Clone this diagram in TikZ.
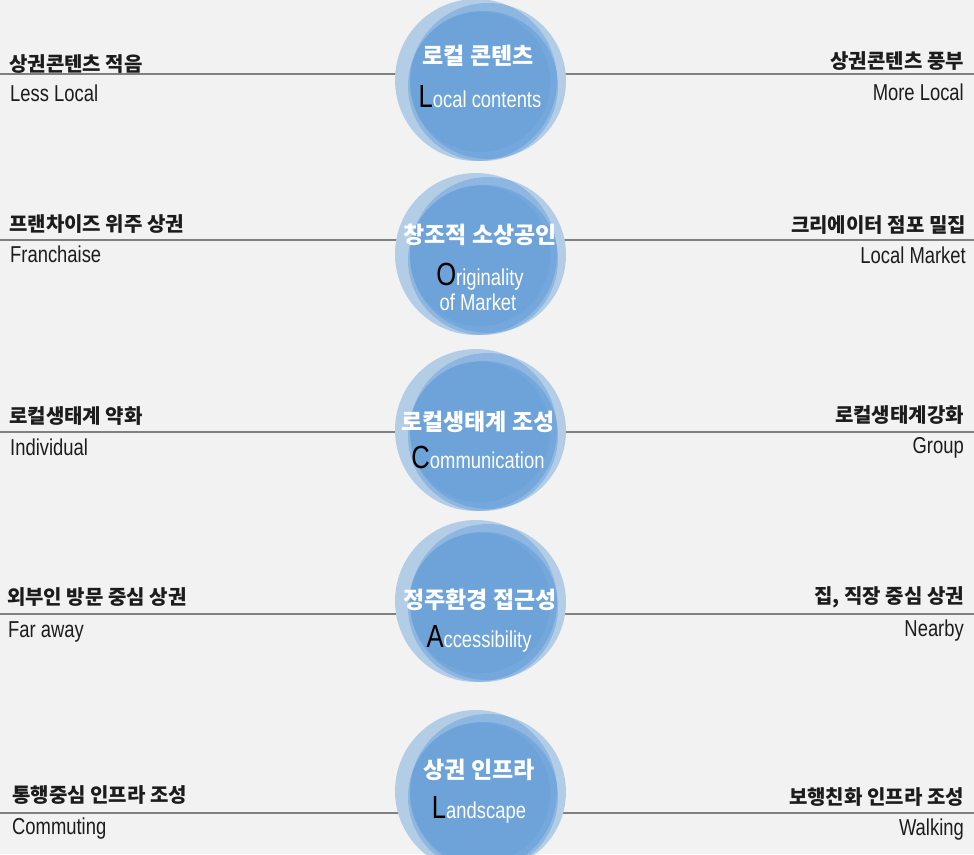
\documentclass[tikz,border=0pt]{standalone}
\usepackage{fontspec}
\newfontfamily\kr{Noto Sans CJK KR}
\newfontfamily\en[FakeStretch=0.8]{Liberation Sans}
\definecolor{bg}{RGB}{242,242,242}
\definecolor{blu}{RGB}{72,142,212}
\definecolor{txt}{RGB}{28,28,28}
\definecolor{ln}{RGB}{128,128,128}
\newcommand{\BigInit}[1]{{\color{black}\fontsize{32}{32}\selectfont #1}}
\begin{document}
\begin{tikzpicture}[x=1pt,y=-1pt,
  krl/.style={font=\kr\bfseries\fontsize{20}{22}\selectfont, text=txt, inner sep=0pt},
  enl/.style={font=\en\fontsize{23}{25}\selectfont, text=txt, inner sep=0pt},
  krc/.style={font=\kr\bfseries\fontsize{23}{25}\selectfont, text=white, inner sep=0pt},
  enc/.style={font=\en\fontsize{23}{25}\selectfont, text=white, inner sep=0pt, anchor=base},
  rowline/.style={draw=ln, line width=1.8pt},
  bub/.style={fill=blu, fill opacity=0.36},
]
\useasboundingbox (0,0) rectangle (974,854);
\fill[bg] (0,0) rectangle (974,854);

% lines
\foreach \i/\y in {1/74,2/240,3/432,4/614,5/813}{
  \coordinate (la\i) at (0,\y);
  \coordinate (lb\i) at (974,\y);
  \draw[rowline] (la\i) -- (lb\i);
}

% bubbles
\foreach \cy in {82,256,432,603,793}{
  \fill[bg] (476,\cy-2) circle[radius=81] (488,\cy-1) circle[radius=78] (483,\cy+4) circle[radius=75] (480,\cy) circle[radius=70];
  \fill[bub] (476,\cy-2) circle[radius=81];
  \fill[bub] (488,\cy-1) circle[radius=78];
  \fill[bub] (483,\cy+4) circle[radius=75];
  \fill[bub, fill opacity=0.15] (480,\cy) circle[radius=70];
}

% bubble texts
\node[krc] (k1) at (478,56) {로컬 콘텐츠};
\node[enc] (e1) at (480,107) {\BigInit{L}ocal contents};
\node[krc] (k2) at (480,235) {창조적 소상공인};
\node[enc] (e2) at (480,285) {\BigInit{O}riginality};
\node[enc] (e2b) at (478,310) {of Market};
\node[krc] (k3) at (478,422) {로컬생태계 조성};
\node[enc] (e3) at (478,468) {\BigInit{C}ommunication};
\node[krc] (k4) at (480,600) {정주환경 접근성};
\node[enc] (e4) at (479,647) {\BigInit{A}ccessibility};
\node[krc] (k5) at (479,770) {상권 인프라};
\node[enc] (e5) at (479,818) {\BigInit{L}andscape};

% left labels
\node[krl, anchor=west] (lk1) at (9,64) {상권콘텐츠 적음};
\node[enl, anchor=base west] (le1) at (10,101) {Less Local};
\node[krl, anchor=west] (lk2) at (9,224) {프랜차이즈 위주 상권};
\node[enl, anchor=base west] (le2) at (10,262) {Franchaise};
\node[krl, anchor=west] (lk3) at (9,416) {로컬생태계 약화};
\node[enl, anchor=base west] (le3) at (10,455) {Individual};
\node[krl, anchor=west] (lk4) at (7,597) {외부인 방문 중심 상권};
\node[enl, anchor=base west] (le4) at (8,637) {Far away};
\node[krl, anchor=west] (lk5) at (12,795) {통행중심 인프라 조성};
\node[enl, anchor=base west] (le5) at (12,834) {Commuting};

% right labels
\node[krl, anchor=east] (rk1) at (964,61) {상권콘텐츠 풍부};
\node[enl, anchor=base east] (re1) at (964,100) {More Local};
\node[krl, anchor=east] (rk2) at (966,225) {크리에이터 점포 밀집};
\node[enl, anchor=base east] (re2) at (966,263) {Local Market};
\node[krl, anchor=east] (rk3) at (964,415) {로컬생태계강화};
\node[enl, anchor=base east] (re3) at (964,453) {Group};
\node[krl, anchor=east] (rk4) at (964,597) {집, 직장 중심 상권};
\node[enl, anchor=base east] (re4) at (964,636) {Nearby};
\node[krl, anchor=east] (rk5) at (964,797) {보행친화 인프라 조성};
\node[enl, anchor=base east] (re5) at (964,835) {Walking};
\end{tikzpicture}
\end{document}
